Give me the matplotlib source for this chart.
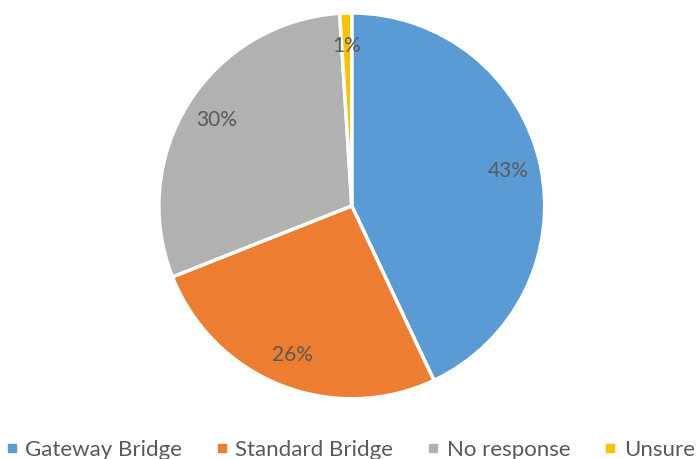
import matplotlib.pyplot as plt
from matplotlib.lines import Line2D

# Jawaban survei jenis jembatan
kategori = ["Gateway Bridge", "Standard Bridge", "No response", "Unsure"]
persen = [43, 26, 30, 1]
warna = ["#5B9BD5", "#ED7D31", "#B1B1B1", "#FFC000"]

plt.rcParams['font.family'] = ['Lato', 'DejaVu Sans']

fig = plt.figure(figsize=(6.98, 4.59), dpi=100)
ax = fig.add_axes([0.229, 0.133, 0.550, 0.837])

wedges, teks, teks_persen = ax.pie(
    persen, colors=warna, startangle=90, counterclock=False,
    autopct=lambda p: f"{p:.0f}%", pctdistance=0.83,
    wedgeprops=dict(edgecolor="white", linewidth=2.5),
    textprops=dict(color="#595959", fontsize=15))
ax.set_xlim(-0.995, 0.995)
ax.set_ylim(-0.995, 0.995)
ax.set_aspect("equal")

# Legenda di bawah pie
handle = [Line2D([0], [0], marker="s", linestyle="", markersize=6,
                 markerfacecolor=w, markeredgecolor=w) for w in warna]
fig.legend(handle, kategori, loc="center", bbox_to_anchor=(0.502, 0.02),
           ncol=4, frameon=False, fontsize=16, labelcolor="#595959",
           handlelength=0.5, handletextpad=0.35, columnspacing=1.55,
           borderaxespad=0, borderpad=0)

fig.savefig("out.png", dpi=100)
